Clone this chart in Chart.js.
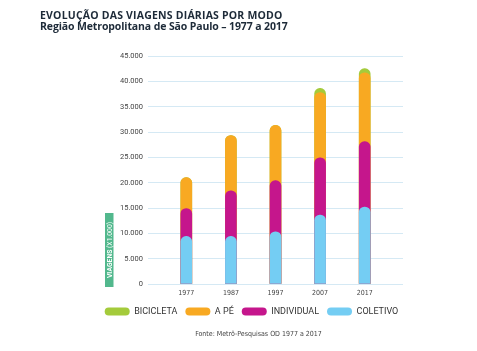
<!DOCTYPE html>
<html>
<head>
<meta charset="utf-8">
<script src="https://cdn.jsdelivr.net/npm/chart.js@4"></script>
<style>
  html, body { margin: 0; padding: 0; background: #fff; }
  #wrap { position: relative; width: 477px; height: 351px; overflow: hidden; }
  #grafico { position: absolute; left: 0; top: 0; }
  .titulo { position: absolute; left: 40px; font-family: "Open Sans", sans-serif; font-weight: bold;
            font-size: 10.5px; line-height: 10.5px; color: #1d2a38; white-space: nowrap; }
  .l1 { top: 10px; letter-spacing: 0.2px; }
  .l2 { top: 20.5px; letter-spacing: -0.12px; }
  .fonte { position: absolute; left: 0; width: 517px; top: 330px; text-align: center;
           font-family: "Liberation Sans Narrow", "DejaVu Sans Condensed", sans-serif; font-size: 7px; color: #444; }
</style>
</head>
<body>
<div id="wrap">
  <canvas id="grafico" width="477" height="351"></canvas>
  <div class="titulo l1">EVOLUÇÃO DAS VIAGENS DIÁRIAS POR MODO</div>
  <div class="titulo l2">Região Metropolitana de São Paulo – 1977 a 2017</div>
  <div class="fonte">Fonte: Metrô-Pesquisas OD 1977 a 2017</div>
</div>
<script>
// anos da pesquisa OD
const anos = [1977, 1987, 1997, 2007, 2017];

// viagens diárias por modo (x 1.000)
const coletivo   = [9400, 9400, 10300, 13600, 15200];
const individual = [5500, 9000, 10100, 11300, 12900];
const aPe        = [6100, 10900, 10900, 12900, 13600];
const bicicleta  = [0, 0, 0, 800, 800];

const yTicks = [0, 5000, 10000, 15000, 20000, 25000, 30000, 35000, 40000, 45000];

// barras sobrepostas: cada modo vai do zero até o acumulado, o de baixo fica por cima
function acumula(...series) {
    return anos.map((ano, i) => ({ x: ano, y: series.reduce((s, arr) => s + arr[i], 0) }));
}

const fmt = v => String(v).replace(/\B(?=(\d{3})+(?!\d))/g, '.');
const narrow = '"Liberation Sans Narrow", "DejaVu Sans Condensed", sans-serif';

// etiqueta verde do eixo Y
const etiquetaY = {
    id: 'etiquetaY',
    afterDraw(chart) {
        const c = chart.ctx;
        c.save();
        c.fillStyle = '#52b88d';
        c.fillRect(105, 213, 8.5, 74);
        c.translate(109.6, 250);
        c.rotate(-Math.PI / 2);
        c.textBaseline = 'middle';
        c.fillStyle = '#fff';
        const a = 'VIAGENS ', b = '(X1.000)';
        c.font = 'bold 6.8px Roboto';
        const wa = c.measureText(a).width;
        c.font = '6.8px Roboto';
        const wb = c.measureText(b).width;
        let x0 = -(wa + wb) / 2;
        c.font = 'bold 6.8px Roboto';
        c.fillText(a, x0, 0.5);
        c.font = '6.8px Roboto';
        c.fillText(b, x0 + wa, 0.5);
        c.restore();
    }
};

new Chart(document.getElementById('grafico'), {
    type: 'bar',
    data: {
        datasets: [
            { label: 'BICICLETA',  data: acumula(coletivo, individual, aPe, bicicleta), backgroundColor: '#a4cb3b', order: 4 },
            { label: 'A PÉ',       data: acumula(coletivo, individual, aPe),            backgroundColor: '#f8a922', order: 3 },
            { label: 'INDIVIDUAL', data: acumula(coletivo, individual),                 backgroundColor: '#c5168c', order: 2 },
            { label: 'COLETIVO',   data: acumula(coletivo),                             backgroundColor: '#74cdf3', order: 1 }
        ]
    },
    options: {
        responsive: false,
        animation: false,
        layout: { padding: { left: 60, right: 34, top: 56, bottom: 25 } },
        datasets: { bar: { barThickness: 11, borderRadius: 6, grouped: false } },
        plugins: {
            tooltip: { enabled: false },
            legend: {
                position: 'bottom',
                labels: {
                    boxWidth: 25, boxHeight: 8, useBorderRadius: true, borderRadius: 4,
                    padding: 8, color: '#333',
                    font: { family: 'Roboto', size: 9 },
                    sort: (a, b) => a.datasetIndex - b.datasetIndex
                }
            }
        },
        scales: {
            x: {
                type: 'linear',
                min: 1974.13, max: 2019.87,
                afterBuildTicks: s => { s.ticks = anos.map(v => ({ value: v })); },
                afterFit: s => { s.height = 15; },
                grid: { display: false, drawTicks: false },
                border: { display: false },
                ticks: {
                    padding: 5, color: '#444',
                    font: { family: narrow, size: 7 },
                    callback: v => String(v)
                }
            },
            y: {
                min: 0, max: 45000,
                afterBuildTicks: s => { s.ticks = yTicks.map(v => ({ value: v })); },
                afterFit: s => { s.width = 88; },
                grid: { color: '#d5e9f4', drawTicks: false },
                border: { display: false },
                ticks: {
                    padding: 5, color: '#444',
                    font: { family: 'Roboto', size: 7.5 },
                    callback: v => fmt(v)
                }
            },
            // eixo vazio só para reservar a margem direita
            margem: {
                position: 'right',
                afterFit: s => { s.width = 40; },
                grid: { display: false },
                border: { display: false },
                ticks: { display: false }
            }
        }
    },
    plugins: [etiquetaY]
});
</script>
</body>
</html>
